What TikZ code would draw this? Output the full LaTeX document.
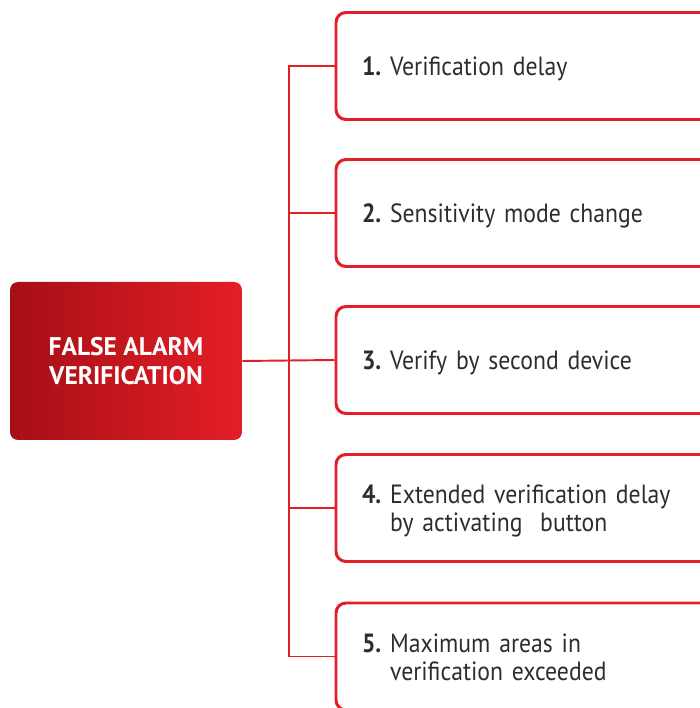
\documentclass[tikz,border=0pt]{standalone}
\usepackage{fontspec}
\setmainfont{PT Sans}
\newfontfamily\itemfont[FakeStretch=0.9]{PT Sans}
\usetikzlibrary{positioning}
\definecolor{alarmred}{HTML}{E41E26}
\definecolor{alarmdark}{HTML}{A60F16}
\definecolor{itemgray}{HTML}{2D2D2D}
\newcommand{\verifitem}[2]{\raisebox{-2.4pt}[\height][\depth]{\begin{tabular}{@{}l@{\hspace{5pt}}l@{}}\textbf{#1}&#2\end{tabular}}}
\begin{document}
\begin{tikzpicture}[
    itembox/.style={draw=alarmred,line width=1.7pt,rounded corners=0.2cm,minimum height=2.14cm,text width=6.76cm,inner xsep=0.52cm,align=left,text=itemgray,font=\itemfont\fontsize{15}{16}\selectfont},
    mainbox/.style={left color=alarmdark,right color=alarmred,rounded corners=0.16cm,minimum width=4.64cm,minimum height=3.16cm,align=center,text=white,font=\fontsize{14.5}{16.5}\selectfont\bfseries},
    link/.style={draw=alarmred,line width=1.1pt}]
    \clip (0,0) rectangle (14,14.16);
    \node[mainbox] (alarm) at (2.52,6.94) {FALSE ALARM\\VERIFICATION};
    \node[itembox] (v1) at (10.62,12.84) {\verifitem{1.}{Verification delay}};
    \node[itembox] (v2) at (10.62,9.9) {\verifitem{2.}{Sensitivity mode change}};
    \node[itembox] (v3) at (10.62,6.96) {\verifitem{3.}{Verify by second device}};
    \node[itembox] (v4) at (10.62,4.0) {\verifitem{4.}{Extended verification delay\\&by activating\ \ button}};
    \node[itembox] (v5) at (10.62,1.03) {\verifitem{5.}{Maximum areas in\\&verification exceeded}};
    \coordinate (trunk) at (5.78,6.94);
    \draw[link] (alarm.east) -- (v3.west);
    \draw[link] (v1.west) -| (trunk) |- (v5.west);
    \draw[link] (v2.west) -- (v2.west -| trunk); \draw[link] (v4.west) -- (v4.west -| trunk);
\end{tikzpicture}
\end{document}
